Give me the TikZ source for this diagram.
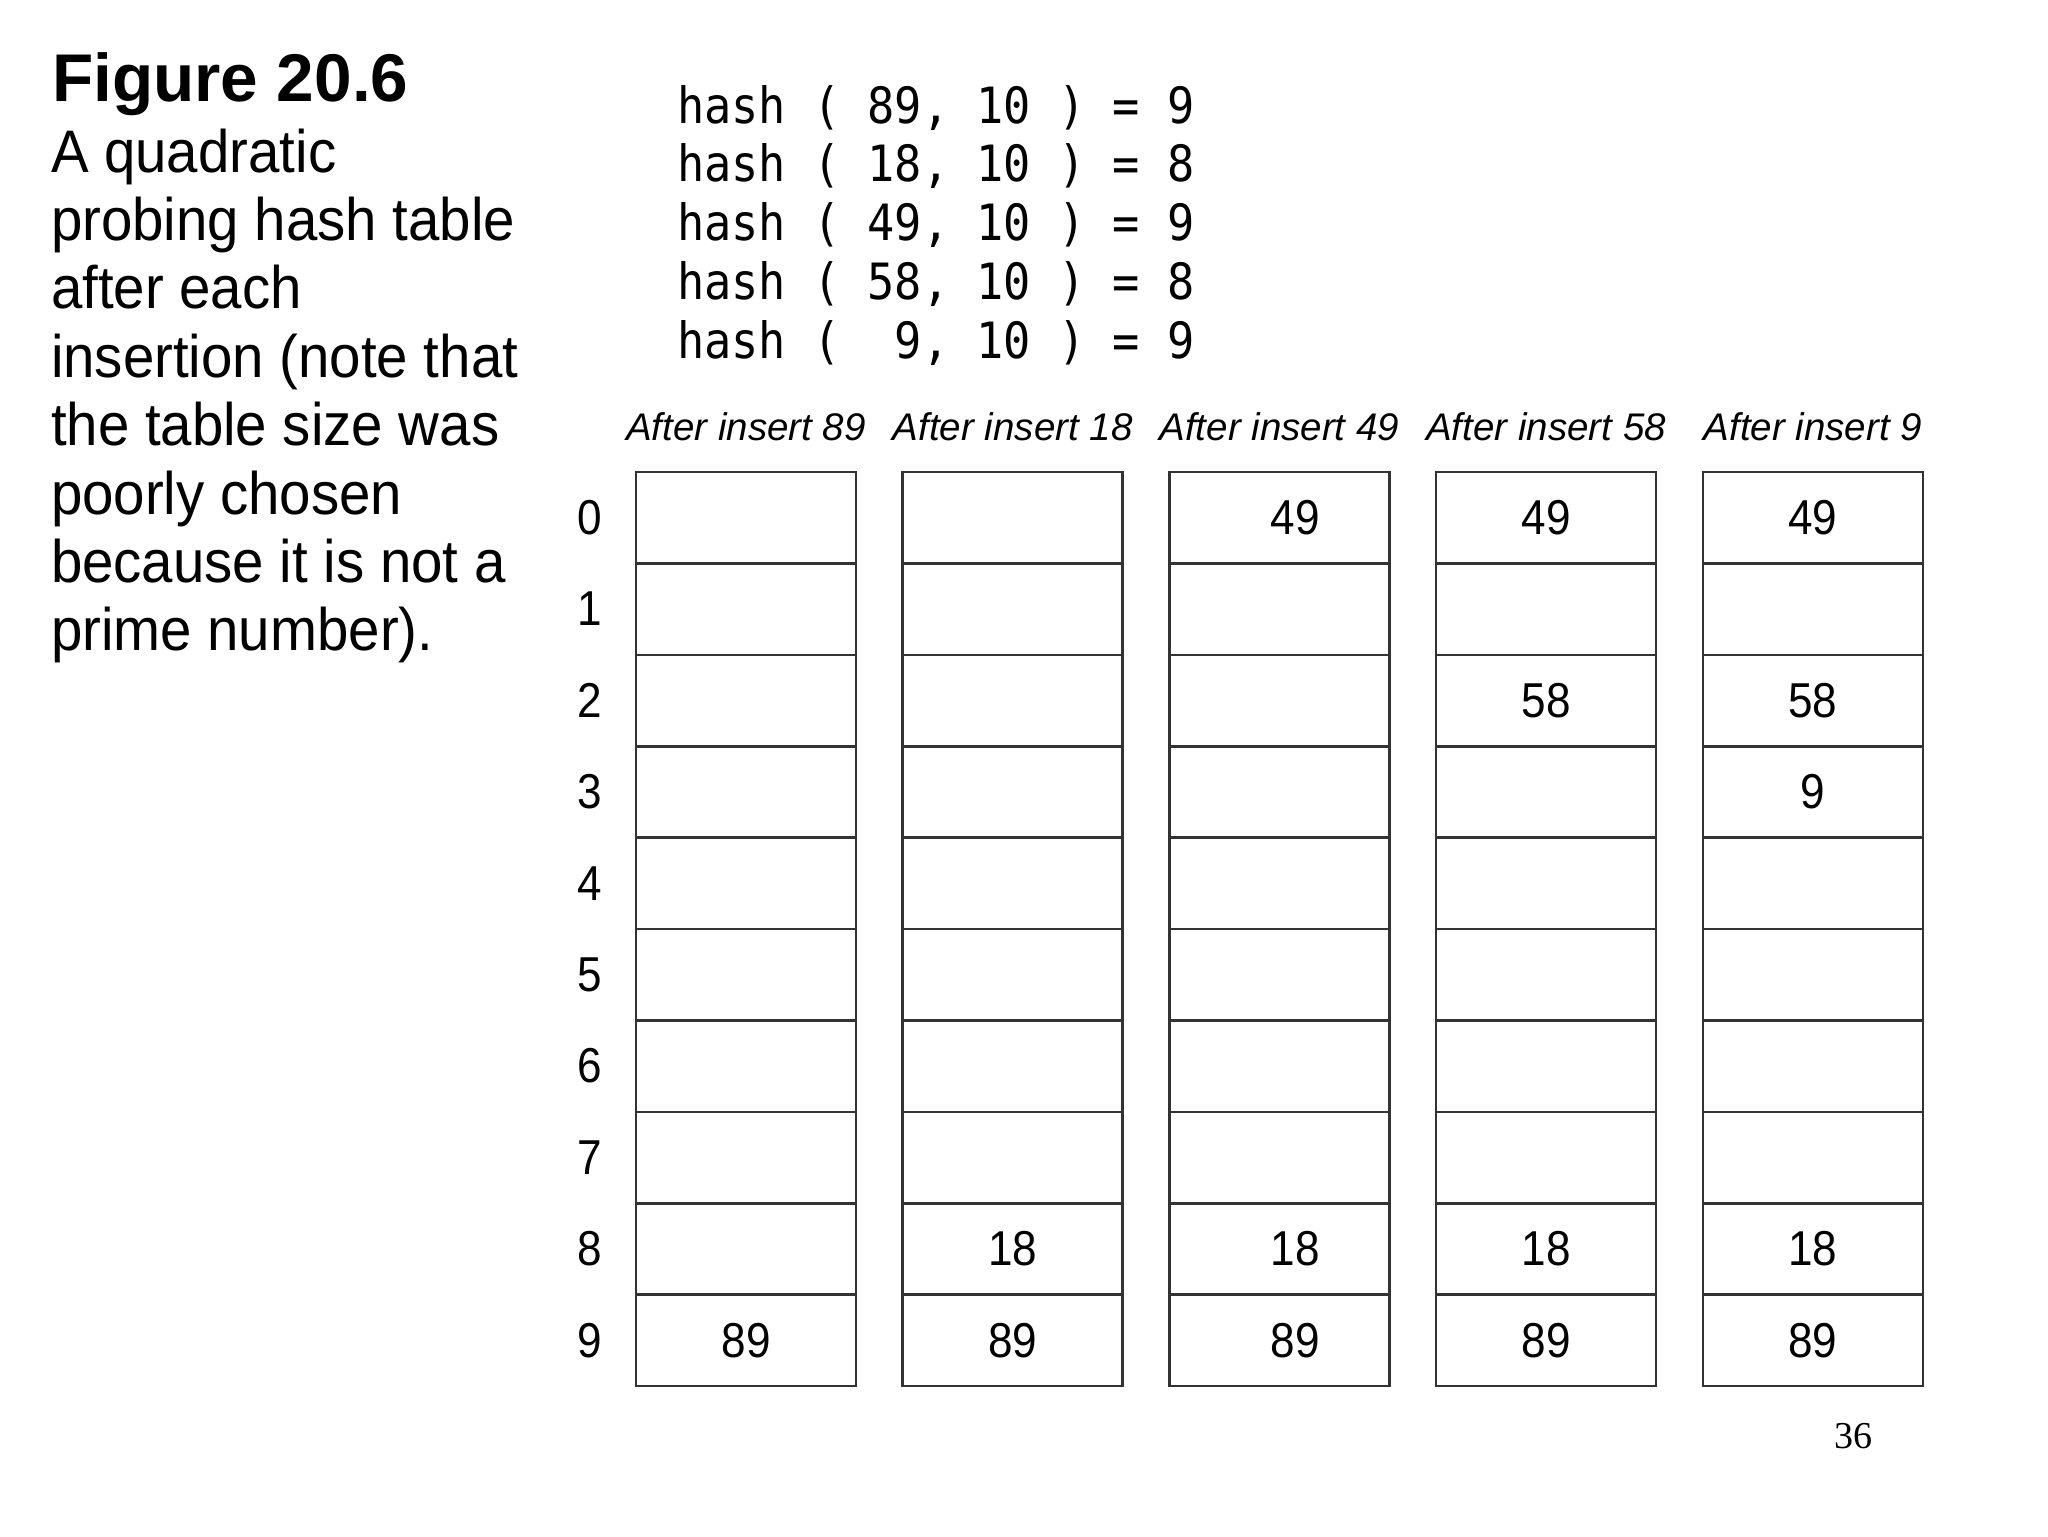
\documentclass[tikz,border=0pt]{standalone}
\usepackage{fontspec}
\setmainfont{Liberation Sans}
\newfontfamily\capfont[FakeStretch=0.94]{Liberation Sans}
\newfontfamily\cellfont[FakeStretch=0.9]{Liberation Sans}
\newfontfamily\hashfont[FakeStretch=0.905]{DejaVu Sans Mono}
\newfontfamily\pagefont{Liberation Serif}

\begin{document}
\begin{tikzpicture}[x=0.5pt, y=-0.5pt]
    \tikzset{
      every node/.style={inner sep=0pt, outer sep=0pt},
      cell/.style={draw=black!80, line width=1.3pt, minimum width=110pt, minimum height=45.7pt},
      val/.style={font=\cellfont\fontsize{24.5}{24.5}\selectfont},
      head/.style={anchor=base, font=\itshape\fontsize{19.25}{19.25}\selectfont},
      hashline/.style={anchor=base west, font=\hashfont\fontsize{25}{25}\selectfont},
      capline/.style={anchor=base west, font=\capfont\fontsize{30}{30}\selectfont},
    }
    \fill[white] (0,0) rectangle (2048,1536);
    \useasboundingbox (0,0) rectangle (2048,1536);

    % caption on the left
    \node[anchor=base west, font=\bfseries\fontsize{33.75}{33.75}\selectfont] (title) at (52,102) {Figure 20.6};
    \foreach \txt [count=\i from 0] in {A quadratic, probing hash table, after each, insertion (note that,
        the table size was, poorly chosen, because it is not a, prime number).}
      \node[capline] (cap\i) at (51,{172+68.4*\i}) {\txt};

    % hash values
    \foreach \txt [count=\i from 0] in {{hash ( 89, 10 ) = 9}, {hash ( 18, 10 ) = 8}, {hash ( 49, 10 ) = 9},
        {hash ( 58, 10 ) = 8}, {hash (\ \ 9, 10 ) = 9}}
      \node[hashline] (hash\i) at (677,{123+58.8*\i}) {\txt};

    % the five tables
    \foreach \c/\k in {0/89, 1/18, 2/49, 3/58, 4/9} {
      \node[head] (head\c) at ({746+266.7*\c},440) {After insert \k};
      \foreach \r in {0,...,9}
        \node[cell] (t\c-\r) at ({746+266.7*\c},{517.7+91.4*\r}) {};
    }
    \foreach \r in {0,...,9}
      \node[val] (row\r) at (590,{517.7+91.4*\r}) {\r};

    \foreach \c/\r/\v/\dx in {0/9/89/0, 1/8/18/0, 1/9/89/0, 2/0/49/8, 2/8/18/8, 2/9/89/8,
        3/0/49/0, 3/2/58/0, 3/8/18/0, 3/9/89/0, 4/0/49/0, 4/2/58/0, 4/3/9/0, 4/8/18/0, 4/9/89/0}
      \node[val] (v\c-\r) at ([xshift=\dx pt]t\c-\r.center) {\v};

    \node[anchor=base, font=\pagefont\fontsize{19}{19}\selectfont] (page) at (1853.5,1448) {36};
\end{tikzpicture}
\end{document}
